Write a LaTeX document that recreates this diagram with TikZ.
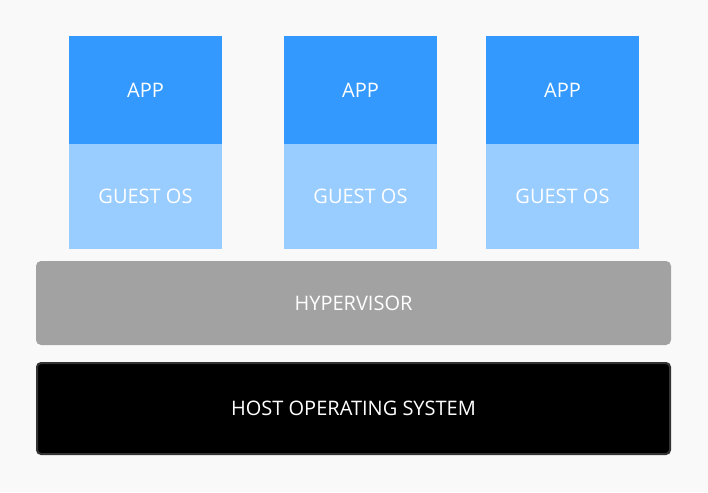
\documentclass[tikz,border=0pt]{standalone}
\usepackage{fontspec}
\setmainfont{Open Sans}
\usepackage{xcolor}
\definecolor{appblue}{HTML}{3399FF}
\definecolor{guestblue}{HTML}{99CCFF}
\definecolor{hvgray}{HTML}{A2A2A2}
\definecolor{hostedge}{HTML}{333333}
\definecolor{pagebg}{HTML}{F9F9F9}

\begin{document}
\begin{tikzpicture}[x=1pt, y=-1pt,
    every node/.style={font=\fontsize{20}{24}\selectfont, text=white, inner sep=0pt},
    appbox/.style={rectangle, fill=appblue, minimum width=153pt, minimum height=108pt},
    guestbox/.style={rectangle, fill=guestblue, minimum width=153pt, minimum height=105pt},
    hvbox/.style={rectangle, rounded corners=5pt, fill=hvgray, minimum width=635pt, minimum height=84pt},
    hostbox/.style={rectangle, rounded corners=4pt, fill=black, draw=hostedge, line width=2pt, minimum width=633pt, minimum height=91pt}]
    % Background
    \fill[pagebg] (0,0) rectangle (708,492);
    \useasboundingbox (0,0) rectangle (708,492);

    % Apps
    \node[appbox] (app1) at (145.5,90) {APP};
    \node[appbox] (app2) at (360.5,90) {APP};
    \node[appbox] (app3) at (562.5,90) {APP};

    % Guest OS
    \node[guestbox] (guest1) at (145.5,196.5) {GUEST OS};
    \node[guestbox] (guest2) at (360.5,196.5) {GUEST OS};
    \node[guestbox] (guest3) at (562.5,196.5) {GUEST OS};

    % Hypervisor
    \node[hvbox] (hv) at (353.5,303) {HYPERVISOR};

    % Host
    \node[hostbox] (host) at (353.5,408.5) {HOST OPERATING SYSTEM};
\end{tikzpicture}
\end{document}
